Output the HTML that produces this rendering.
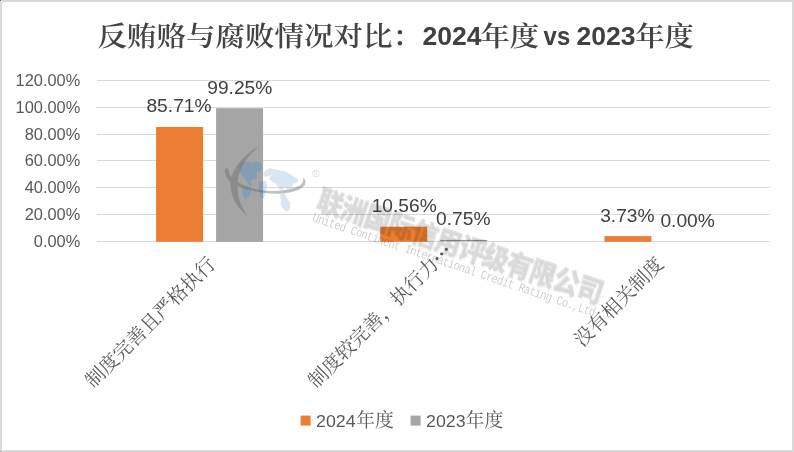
<!DOCTYPE html>
<html lang="zh-CN">
<head>
<meta charset="utf-8">
<title>反贿赂与腐败情况对比</title>
<style>
html,body{margin:0;padding:0;background:#fff;}
body{width:794px;height:452px;overflow:hidden;}
svg{display:block;}
text{font-family:"Liberation Sans","Noto Sans CJK SC",sans-serif;}
.ax{font-size:16.4px;fill:#595959;}
.dl{font-size:19.2px;fill:#404040;}
.cat{font-family:"Liberation Serif","Noto Serif CJK SC",serif;font-size:19.4px;fill:#595959;}
.tt{font-family:"Liberation Serif","Noto Serif CJK SC",serif;font-size:29.5px;font-weight:600;fill:#444;}
.tb{font-family:"Liberation Sans",sans-serif;font-weight:bold;font-size:25.5px;fill:#404040;}
.lg{font-size:17px;fill:#595959;}
.lgc{font-family:"Liberation Serif","Noto Serif CJK SC",serif;font-size:18.8px;fill:#595959;}
.wmc{font-family:"Liberation Sans","Noto Sans CJK SC",sans-serif;font-weight:900;font-size:26px;}
.wme{font-family:"Liberation Mono",monospace;font-size:10.4px;}
</style>
</head>
<body>
<svg width="794" height="452" viewBox="0 0 794 452">
<rect x="0" y="0" width="794" height="452" fill="#d9d9d9"/>
<rect x="2" y="2" width="790" height="448" fill="#ffffff"/>
<rect x="0" y="0" width="1" height="1" fill="#666"/><rect x="0" y="451" width="1" height="1" fill="#999"/>
<!-- title -->
<text class="tt" transform="translate(97.6,45.6) scale(1,0.9375)">反贿赂与腐败情况对比：</text>
<text class="tb" x="422.5" y="45.2" textLength="59" lengthAdjust="spacingAndGlyphs">2024</text>
<text class="tt" transform="translate(480.5,45.6) scale(1,0.9375)" textLength="58.6" lengthAdjust="spacingAndGlyphs">年度</text>
<text class="tb" x="543.6" y="45.2" textLength="26.6" lengthAdjust="spacingAndGlyphs">vs</text>
<text class="tb" x="576.5" y="45.2" textLength="59" lengthAdjust="spacingAndGlyphs">2023</text>
<text class="tt" transform="translate(635.2,45.6) scale(1,0.9375)" textLength="58.6" lengthAdjust="spacingAndGlyphs">年度</text>
<!-- grid -->
<rect x="97.0" y="241" width="672.5" height="1" fill="#d9d9d9"/>
<rect x="97.0" y="214" width="672.5" height="1" fill="#d9d9d9"/>
<rect x="97.0" y="187" width="672.5" height="1" fill="#d9d9d9"/>
<rect x="97.0" y="160" width="672.5" height="1" fill="#d9d9d9"/>
<rect x="97.0" y="134" width="672.5" height="1" fill="#d9d9d9"/>
<rect x="97.0" y="107" width="672.5" height="1" fill="#d9d9d9"/>
<rect x="97.0" y="80" width="672.5" height="1" fill="#d9d9d9"/>

<!-- y labels -->
<text x="80.3" y="247.00" text-anchor="end" class="ax">0.00%</text>
<text x="80.3" y="220.15" text-anchor="end" class="ax">20.00%</text>
<text x="80.3" y="193.30" text-anchor="end" class="ax">40.00%</text>
<text x="80.3" y="166.45" text-anchor="end" class="ax">60.00%</text>
<text x="80.3" y="139.60" text-anchor="end" class="ax">80.00%</text>
<text x="80.3" y="112.75" text-anchor="end" class="ax">100.00%</text>
<text x="80.3" y="85.90" text-anchor="end" class="ax">120.00%</text>

<!-- bars -->
<rect x="156.08" y="127.00" width="47" height="114.80" fill="#ed7d31"/>
<rect x="216.08" y="108.20" width="47" height="133.60" fill="#a5a5a5"/>
<rect x="380.25" y="226.70" width="47" height="15.10" fill="#ed7d31"/>
<rect x="440.25" y="239.9" width="47" height="1" fill="#8a8a8a"/>
<rect x="604.42" y="236.10" width="47" height="5.70" fill="#ed7d31"/>

<!-- watermark -->
<g id="wm">
 <clipPath id="cb"><rect x="216.08" y="108.2" width="47" height="134"/></clipPath>
 <path d="M239.3,165.0 L241.3,162.3 L246.6,161.6 L251.9,163.0 L255.9,161.6 L260.6,162.3 L262.6,165.0 L261.9,169.6 L259.9,172.3 L257.9,170.9 L255.9,173.6 L257.2,177.6 L254.6,179.6 L252.6,178.9 L250.9,181.6 L251.7,184.9 L250.3,186.6 L248.0,183.6 L246.0,180.2 L243.3,176.9 L240.6,173.6 L238.9,168.9 Z M242.6,187.9 L249.3,186.6 L251.4,189.8 L249.5,194.8 L246.1,199.5 L243.4,196.2 L241.8,191.1 Z M259.2,181.6 L265.9,180.9 L267.3,185.5 L266.0,192.2 L263.4,198.8 L260.7,197.5 L258.6,189.8 Z M263.2,173.6 L265.9,169.6 L270.5,168.3 L274.5,169.6 L273.2,173.6 L269.2,176.2 L265.2,176.9 Z M274.5,169.6 L279.8,170.3 L285.1,171.6 L291.8,174.9 L298.4,179.6 L297.1,182.9 L293.1,183.6 L291.8,188.2 L287.8,189.5 L285.1,186.9 L281.8,190.2 L278.5,188.2 L275.8,183.6 L271.9,181.6 L269.2,178.2 L273.2,173.6 Z M279.8,194.8 L284.5,193.5 L287.1,198.8 L290.4,202.8 L289.8,209.4 L286.5,212.1 L282.5,208.1 L280.5,204.1 L281.2,200.2 Z" fill="#96b9dc" fill-opacity="0.36"/>
 <path d="M239.3,165.0 L241.3,162.3 L246.6,161.6 L251.9,163.0 L255.9,161.6 L260.6,162.3 L262.6,165.0 L261.9,169.6 L259.9,172.3 L257.9,170.9 L255.9,173.6 L257.2,177.6 L254.6,179.6 L252.6,178.9 L250.9,181.6 L251.7,184.9 L250.3,186.6 L248.0,183.6 L246.0,180.2 L243.3,176.9 L240.6,173.6 L238.9,168.9 Z M242.6,187.9 L249.3,186.6 L251.4,189.8 L249.5,194.8 L246.1,199.5 L243.4,196.2 L241.8,191.1 Z M259.2,181.6 L265.9,180.9 L267.3,185.5 L266.0,192.2 L263.4,198.8 L260.7,197.5 L258.6,189.8 Z M263.2,173.6 L265.9,169.6 L270.5,168.3 L274.5,169.6 L273.2,173.6 L269.2,176.2 L265.2,176.9 Z M274.5,169.6 L279.8,170.3 L285.1,171.6 L291.8,174.9 L298.4,179.6 L297.1,182.9 L293.1,183.6 L291.8,188.2 L287.8,189.5 L285.1,186.9 L281.8,190.2 L278.5,188.2 L275.8,183.6 L271.9,181.6 L269.2,178.2 L273.2,173.6 Z M279.8,194.8 L284.5,193.5 L287.1,198.8 L290.4,202.8 L289.8,209.4 L286.5,212.1 L282.5,208.1 L280.5,204.1 L281.2,200.2 Z" fill="#5f86ad" fill-opacity="0.4" clip-path="url(#cb)"/>
 <g fill="#696969" opacity="0.42">
  <path d="M260.2,145.6 C245,153 230,170 230.4,185 C231,198 238,209 247.9,216.2 C241,207 237.5,197 237.5,185 C237.5,170 247,155 260.2,145.6 Z"/>
  <path d="M225,169 C223.5,175 229,182 236,185.5 C248,191 264,194 279,193.8 C292,193.5 306,189 305.5,182 C305.3,180 304.5,178.5 303,177.5 C303.5,180 303.3,182.5 300.5,185 C294,189 283,191.2 270,191 C255,190.5 243,185.5 236.5,181.5 C231,178 228.5,174 228.6,169.5 C228,167.5 225.5,167.5 225,169 Z"/>
 </g>
 <circle cx="315.7" cy="173.5" r="3.4" fill="none" stroke="#000" stroke-opacity="0.14" stroke-width="0.7"/>
 <text x="315.7" y="175.4" text-anchor="middle" font-size="5.2" fill="#000" fill-opacity="0.16">R</text>
 <g transform="translate(316.2,209) rotate(18.5) scale(1,1.12)">
  <g opacity="0.04"><text class="wmc" x="-0.25 24.65 49.55 74.45 99.35 124.25 149.15 174.05 198.95 223.85 248.75 273.65" y="1.3" fill="#000" stroke="#000" stroke-width="0.5">联洲国际信用评级有限公司</text></g>
  <g opacity="0.105"><text class="wmc" x="-1.55 23.35 48.25 73.15 98.05 122.95 147.85 172.75 197.65 222.55 247.45 272.35" y="0" fill="#000" stroke="#000" stroke-width="0.5">联洲国际信用评级有限公司</text></g>
 </g>
 <g transform="translate(311.8,220.8) rotate(18.75) scale(1,1.22)">
  <text class="wme" x="0" y="0" fill="#000" fill-opacity="0.2" textLength="298" lengthAdjust="spacing">United Continent International Credit Rating Co.,Ltd</text>
 </g>
</g>
<!-- data labels -->
<text class="dl" x="179" y="111.7" text-anchor="middle">85.71%</text>
<text class="dl" x="239.8" y="93.8" text-anchor="middle">99.25%</text>
<text class="dl" x="404.2" y="211.5" text-anchor="middle">10.56%</text>
<text class="dl" x="463.3" y="225.4" text-anchor="middle">0.75%</text>
<text class="dl" x="627.4" y="222" text-anchor="middle">3.73%</text>
<text class="dl" x="687.6" y="227.1" text-anchor="middle">0.00%</text>
<!-- category labels -->
<text class="cat" text-anchor="end" transform="translate(216.7,265.4) rotate(-45)">制度完善且严格执行</text>
<text class="cat" text-anchor="start" transform="translate(316.2,389.0) rotate(-45)">制度较完善，执行力<tspan dy="-5.6" font-weight="bold">…</tspan></text>
<text class="cat" text-anchor="end" transform="translate(664.6,265.4) rotate(-45)">没有相关制度</text>
<!-- legend -->
<rect x="300.6" y="415.6" width="10" height="10" fill="#ed7d31"/>
<text class="lg" x="316" y="426.7" textLength="39.6" lengthAdjust="spacingAndGlyphs">2024</text>
<text class="lgc" x="356.2" y="427.3">年度</text>
<rect x="410.6" y="415.6" width="10" height="10" fill="#a5a5a5"/>
<text class="lg" x="426" y="426.7" textLength="39.6" lengthAdjust="spacingAndGlyphs">2023</text>
<text class="lgc" x="465.8" y="427.3">年度</text>
</svg>
</body>
</html>
